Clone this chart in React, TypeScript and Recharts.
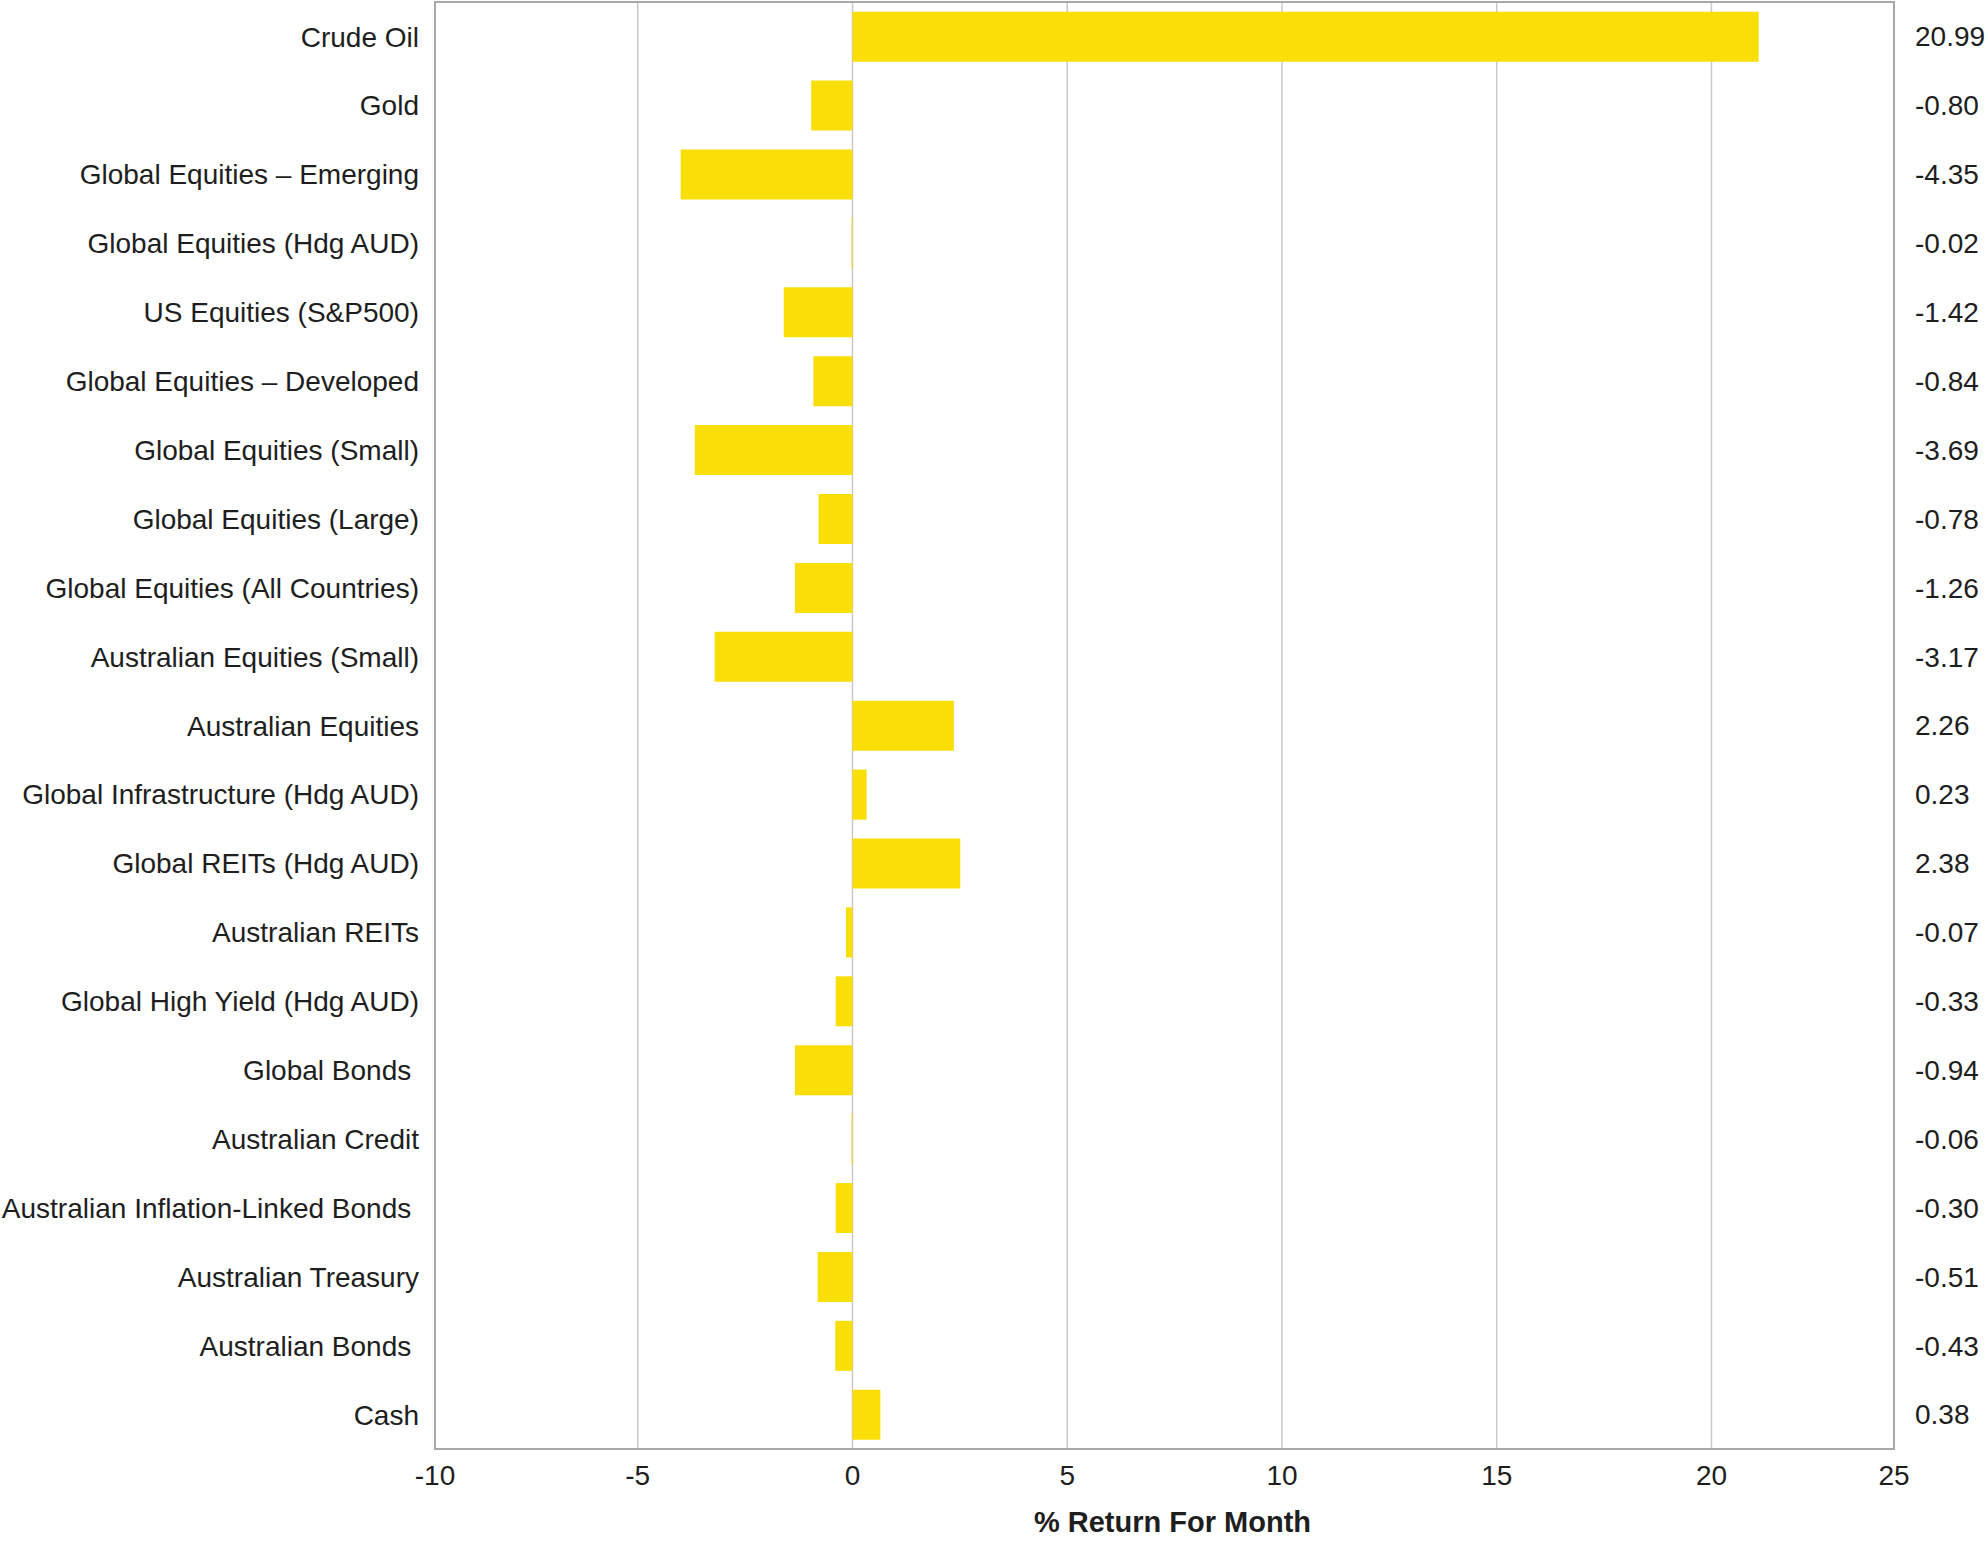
import { BarChart, Bar, XAxis, YAxis, CartesianGrid, ReferenceArea, Label } from "recharts"

const categories = [
  "Crude Oil",
  "Gold",
  "Global Equities – Emerging",
  "Global Equities (Hdg AUD)",
  "US Equities (S&P500)",
  "Global Equities – Developed",
  "Global Equities (Small)",
  "Global Equities (Large)",
  "Global Equities (All Countries)",
  "Australian Equities (Small)",
  "Australian Equities",
  "Global Infrastructure (Hdg AUD)",
  "Global REITs (Hdg AUD)",
  "Australian REITs",
  "Global High Yield (Hdg AUD)",
  "Global Bonds ",
  "Australian Credit",
  "Australian Inflation-Linked Bonds ",
  "Australian Treasury",
  "Australian Bonds ",
  "Cash",
]

// bar lengths as drawn in the picture
const returns = [
  21.1, -0.96, -4.0, -0.02, -1.6, -0.91, -3.67, -0.79, -1.34, -3.21, 2.36,
  0.33, 2.51, -0.15, -0.39, -1.34, -0.02, -0.39, -0.81, -0.4, 0.65,
]

// printed values on the right
const valueLabels = [
  "20.99", "-0.80", "-4.35", "-0.02", "-1.42", "-0.84", "-3.69", "-0.78", "-1.26", "-3.17", "2.26",
  "0.23", "2.38", "-0.07", "-0.33", "-0.94", "-0.06", "-0.30", "-0.51", "-0.43", "0.38",
]

const xTicks = [-9.72, -5, 0, 5, 10, 15, 20, 24.25]
const xTickLabels = ["-10", "-5", "0", "5", "10", "15", "20", "25"]

const FONT = '"Liberation Sans", Arial, Helvetica, sans-serif'
const TEXT = "#1e1e1e"

const data = categories.map((name, i) => ({ name, value: returns[i] }))

function CategoryTick(props: any) {
  const { x, y, payload } = props
  return (
    <text
      x={x}
      y={y}
      dy="0.36em"
      textAnchor="end"
      fontSize={28}
      fontFamily={FONT}
      fill={TEXT}
      style={{ whiteSpace: "pre" }}
    >
      {payload.value}
    </text>
  )
}

export default function App() {
  return (
    <div style={{ position: "absolute", left: 0, top: 0, background: "#fff" }}>
      <BarChart
        width={1988}
        height={1542}
        data={data}
        layout="vertical"
        margin={{ top: 2, right: 0, bottom: 0, left: 0 }}
        barCategoryGap="14%"
      >
        <CartesianGrid horizontal={false} stroke="#c8c8c8" strokeWidth={1.5} />
        <XAxis
          type="number"
          domain={[xTicks[0], xTicks[xTicks.length - 1]]}
          ticks={xTicks}
          interval={0}
          allowDataOverflow
          tickFormatter={(v: number) => xTickLabels[xTicks.indexOf(v)]}
          axisLine={false}
          tickLine={false}
          tickSize={0}
          tickMargin={16}
          height={93}
          tick={{ fontSize: 28, fill: TEXT, fontFamily: FONT }}
        >
          <Label
            value="% Return For Month"
            position="insideBottom"
            offset={10}
            dx={8}
            style={{ fontSize: 29, fontWeight: 700, fill: TEXT, fontFamily: FONT }}
          />
        </XAxis>
        <YAxis
          type="category"
          dataKey="name"
          width={435}
          interval={0}
          axisLine={false}
          tickLine={false}
          tickSize={0}
          tickMargin={16}
          tick={<CategoryTick />}
        />
        <YAxis
          yAxisId="right"
          orientation="right"
          type="category"
          dataKey="name"
          width={94}
          interval={0}
          axisLine={false}
          tickLine={false}
          tickSize={0}
          tickMargin={21}
          tickFormatter={(v: string) => valueLabels[categories.indexOf(v)]}
          tick={{ fontSize: 28, fill: TEXT, fontFamily: FONT }}
        />
        <Bar dataKey="value" fill="#F9DE08" isAnimationActive={false} />
        <ReferenceArea
          x1={xTicks[0]}
          x2={xTicks[xTicks.length - 1]}
          fill="none"
          stroke="#a8a8a8"
          strokeWidth={2}
        />
      </BarChart>
    </div>
  )
}
